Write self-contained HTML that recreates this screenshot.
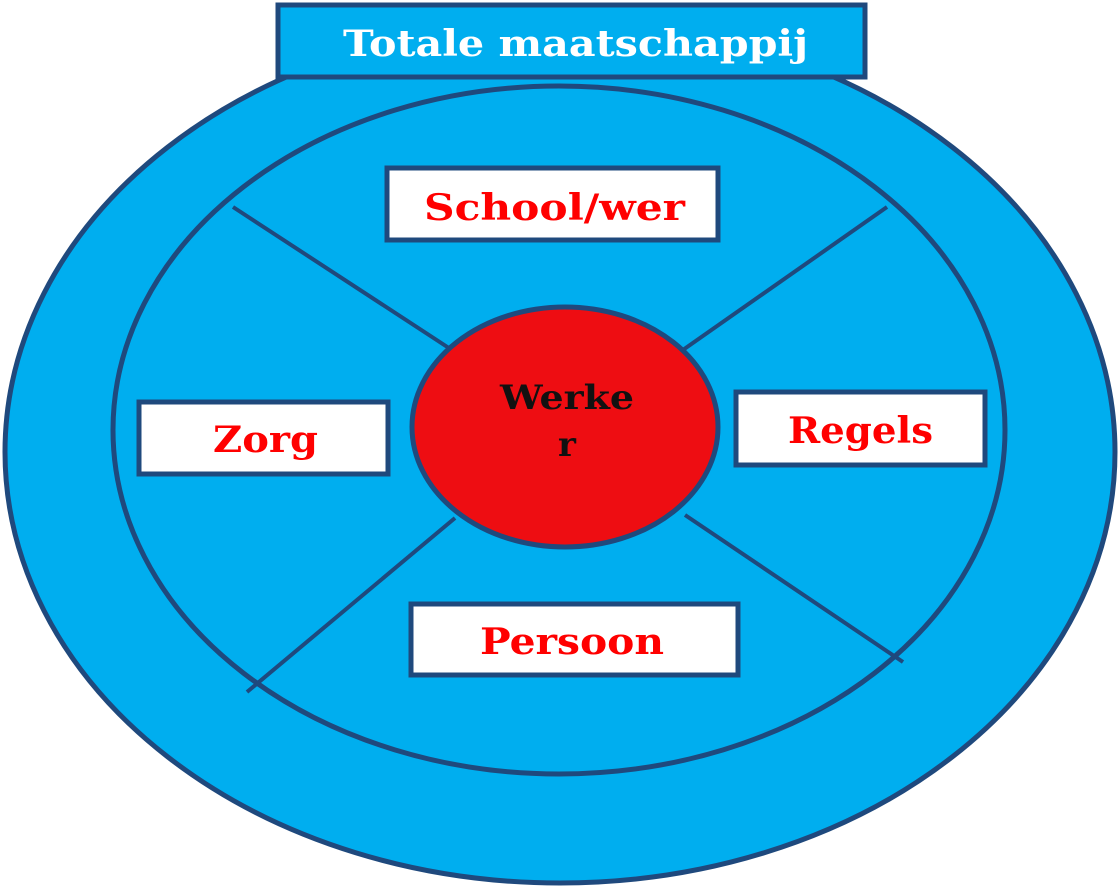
<!DOCTYPE html>
<html><head><style>
html,body{margin:0;padding:0;background:#fff;width:1120px;height:890px;overflow:hidden}
text{font-family:"DejaVu Serif","Liberation Serif",serif;font-weight:bold}
</style></head><body>
<svg width="1120" height="890" viewBox="0 0 1120 890">
<ellipse cx="560" cy="452" rx="555" ry="431" fill="#00AEEF" stroke="#1F497D" stroke-width="5"/>
<ellipse cx="559" cy="430" rx="446" ry="344" fill="#00AEEF" stroke="#1F497D" stroke-width="5"/>
<g stroke="#1F497D" stroke-width="4">
<line x1="233" y1="207" x2="455" y2="352"/>
<line x1="887" y1="207" x2="680" y2="352"/>
<line x1="247" y1="692" x2="455" y2="518"/>
<line x1="903" y1="662" x2="685" y2="515"/>
</g>
<rect x="278" y="5" width="587" height="72" fill="#00AEEF" stroke="#1F497D" stroke-width="5"/>
<text x="343" y="56" font-size="36" fill="#fff" textLength="465" lengthAdjust="spacingAndGlyphs">Totale maatschappij</text>
<ellipse cx="565" cy="427" rx="153" ry="120" fill="#EE0D12" stroke="#1F497D" stroke-width="5"/>
<text x="500" y="409" font-size="34" fill="#111" textLength="134" lengthAdjust="spacingAndGlyphs">Werke</text>
<text x="567" y="456" text-anchor="middle" font-size="34" fill="#111">r</text>
<g fill="#fff" stroke="#1F497D" stroke-width="5">
<rect x="387" y="168" width="331" height="72"/>
<rect x="139" y="402" width="249" height="72"/>
<rect x="736" y="392" width="249" height="73"/>
<rect x="411" y="604" width="327" height="71"/>
</g>
<g fill="#FF0000" font-size="36">
<text x="424" y="220" textLength="261" lengthAdjust="spacingAndGlyphs">School/wer</text>
<text x="213" y="452" textLength="105" lengthAdjust="spacingAndGlyphs">Zorg</text>
<text x="788" y="443" textLength="145" lengthAdjust="spacingAndGlyphs">Regels</text>
<text x="480" y="654" textLength="184" lengthAdjust="spacingAndGlyphs">Persoon</text>
</g>
</svg>
</body></html>
